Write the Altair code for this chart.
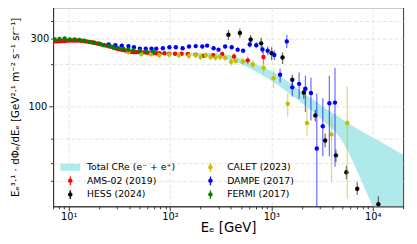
import altair as alt
import pandas as pd

# ---------------- data ----------------
band_E = [7, 10, 14, 20, 30, 50, 70, 100, 200, 300, 400, 547, 750, 1069, 1670, 2090, 2610, 3500, 4090, 5120, 5720, 7640, 10000, 20000]
band_lo = [285, 287, 281, 268, 250, 236, 232, 230, 227, 223, 212, 194, 172, 148, 117, 104, 92, 76, 69, 56, 48.6, 31, 20, 6.3]
band_hi = [298, 299, 293, 280, 262, 248, 244, 242, 240, 237, 229, 214, 196, 174, 140, 124, 112, 96, 90, 81, 77, 68, 61, 46]

ams_E = [7.26, 7.7, 8.12, 8.6, 9.08, 9.6, 10.2, 10.8, 11.4, 12.0, 12.7, 13.4, 14.2, 15.0, 15.9, 16.8, 17.8, 18.8, 19.9, 21.0,
         22.2, 23.5, 24.8, 26.3, 27.8, 29.4, 31.0, 32.8, 34.7, 36.7, 38.8, 41.0, 43.4, 46.7, 50.3, 54.2, 58.5, 63.0, 68.0, 73.0,
         78.8, 88.0, 98.0, 112, 130, 150, 179, 214, 267, 327, 428, 585, 835]
ams_F = [288, 288, 289, 290, 290, 291, 292, 292, 292, 292, 292, 291, 289, 288, 286, 284, 282, 279, 277, 274,
         271, 269, 267, 264, 260, 257, 254, 252, 250, 248, 245, 243, 242, 242, 242, 241, 240, 239, 238, 238,
         238, 238, 236, 236, 236, 235, 232, 228, 230, 235, 226, 212, 224]
ams_err = [0.8, 0.8, 0.8, 0.8, 0.8, 0.8, 0.8, 0.8, 0.8, 0.8, 0.8, 0.8, 0.8, 0.8, 0.8, 0.8, 0.8, 0.8, 0.8, 0.8,
           0.8, 0.8, 0.8, 0.8, 0.8, 0.8, 0.8, 0.8, 0.8, 0.8, 0.8, 0.8, 0.8, 0.8, 0.8, 0.8, 0.8, 0.8, 0.8, 0.8,
           1, 1, 1.5, 1.5, 2, 2, 2.5, 3, 3, 4, 5, 6, 11]

hess_E = [377, 489, 625, 794, 1007, 1290, 1610, 2090, 2720, 3400, 4340, 5510, 7050, 11400]
hess_F = [321, 330, 297, 279, 238, 222, 155, 126, 87, 58, 45.6, 34.7, 26.6, 20.7]
hess_lo = [295, 305, 276, 256, 212, 200, 140, 114, 79, 52, 41, 31, 24, 18.5]
hess_hi = [348, 355, 320, 305, 262, 242, 168, 137, 95, 65, 50, 38.5, 29.5, 23.5]

calet_E = [38.8, 52, 65, 78, 98, 122, 153, 179, 200, 225, 251, 281, 313, 350, 400, 445, 523, 657, 840, 1050, 1450, 2250, 3930, 5620]
calet_F = [243, 235, 235, 230, 233, 230, 228, 230, 224, 230, 224, 222, 224, 220, 207, 210, 208, 199, 188, 159, 105, 77, 64, 77]
calet_lo = [231, 223, 223, 218, 221, 218, 216, 218, 212, 218, 212, 210, 212, 208, 194, 197, 194, 185, 172, 136, 85, 62, 30, 22.5]
calet_hi = [255, 247, 247, 242, 245, 242, 240, 242, 236, 242, 236, 234, 236, 232, 220, 223, 222, 213, 204, 180, 124, 100, 85, 139]

dampe_E = [24.8, 28.8, 33.4, 38.8, 44.0, 50.3, 57.5, 65.5, 73.1, 84.9, 98.5, 114, 133, 154, 179, 208, 232, 269, 301,
           350, 406, 465, 527, 612, 710, 817, 920, 1070, 1220, 1420, 1610, 1880, 2170, 2460, 2810, 3220, 3740, 4250]
dampe_F = [274, 271, 269, 267, 262, 256, 256, 256, 256, 258, 262, 262, 258, 265, 267, 265, 269, 258, 252,
           265, 262, 252, 248, 274, 271, 253, 248, 231, 168, 288, 137, 145, 134, 125, 51, 73, 106, 107]
dampe_lo = [269, 266, 264, 262, 257, 251, 251, 251, 251, 253, 257, 257, 253, 260, 262, 260, 263, 252, 246,
            258, 255, 244, 239, 262, 258, 238, 230, 213, 148, 259, 118, 114, 92, 80, 12, 45, 45, 38]
dampe_hi = [279, 276, 274, 272, 267, 261, 261, 261, 261, 263, 267, 267, 263, 270, 272, 270, 275, 264, 258,
            272, 269, 260, 257, 286, 284, 268, 266, 249, 186, 321, 158, 174, 165, 160, 124, 115, 165, 187]

fermi_E = [7.0, 7.27, 8.1, 9.1, 10.2, 11.4, 12.7, 14.2, 15.9, 17.8, 19.9, 22.2, 24.8, 27.8, 31.0, 34.7, 38.8, 43.4, 50.3, 58.5, 68.0]
fermi_F = [300, 297, 300, 302, 297, 297, 295, 291, 286, 282, 277, 271, 266, 262, 258, 255, 252, 250, 247, 246, 245]
fermi_err = [3, 3, 3, 3, 3, 3, 3, 3, 3, 3, 3, 3, 3, 3, 3, 3.5, 3.5, 3.5, 3.5, 3.5, 3.5]

series_names = ["Total CRe (e⁻ + e⁺)", "AMS-02 (2019)", "HESS (2024)", "CALET (2023)", "DAMPE (2017)", "FERMI (2017)"]
series_colors = ["#afe9e9", "#ff0000", "#000000", "#bfbf00", "#0000ff", "#008000"]

x_ticks = [7, 8, 9, 10, 20, 30, 40, 50, 60, 70, 80, 90, 100, 200, 300, 400, 500, 600, 700, 800, 900,
           1000, 2000, 3000, 4000, 5000, 6000, 7000, 8000, 9000, 10000, 20000]
y_ticks = [30, 40, 60, 100, 200, 300, 400]

# ---------------- scales / axes ----------------
FONT = "DejaVu Sans"
MAJOR_X = "indexof([10,100,1000,10000], datum.value) >= 0"
xscale = alt.Scale(type="log", domain=[7, 20000], nice=False)
yscale = alt.Scale(type="log", domain=[20, 500], nice=False)

xaxis = alt.Axis(
    values=x_ticks,
    labelExpr="datum.value == 10 ? '10¹' : datum.value == 100 ? '10²' : datum.value == 1000 ? '10³' : datum.value == 10000 ? '10⁴' : ''",
    tickSize={"condition": {"test": MAJOR_X, "value": 4.5}, "value": 2.5},
    gridOpacity={"condition": {"test": MAJOR_X, "value": 1}, "value": 0},
    title="Eₑ [GeV]", titleFontSize=13.5, titlePadding=-1,
    labelFontSize=10, labelPadding=1, labelOverlap=False, labelFlush=False,
)
yaxis = alt.Axis(
    values=y_ticks,
    labelExpr="datum.value == 100 ? '100' : datum.value == 300 ? '300' : ''",
    tickSize={"condition": {"test": "datum.value == 100", "value": 4.5}, "value": 2.5},
    title="Eₑ³·¹ · dΦₑ/dEₑ [GeV²·¹ m⁻² s⁻¹ sr⁻¹]", titleFontSize=10.5, titlePadding=8,
    labelFontSize=10, labelPadding=2, labelOverlap=False, labelFlush=False,
)


def X(field="E"):
    return alt.X(f"{field}:Q", scale=xscale, axis=xaxis)


def Y(field):
    return alt.Y(f"{field}:Q", scale=yscale, axis=yaxis)


band_df = pd.DataFrame({"E": band_E, "lo": band_lo, "hi": band_hi})
band = alt.Chart(band_df).mark_area(color=series_colors[0], opacity=1, interpolate="monotone", clip=True).encode(
    x=X(), y=Y("lo"), y2="hi:Q"
)

# legend carrier layer: zero-size points, the legend draws its own symbols
err_path = "M-0.09,-0.64L0.09,-0.64L0.09,0.64L-0.09,0.64Z M0.33,0A0.33,0.33,0,1,1,-0.33,0A0.33,0.33,0,1,1,0.33,0Z"
rect_path = "M-1.43,-0.5L1.43,-0.5L1.43,0.5L-1.43,0.5Z"
legend_shapes = [rect_path, err_path, err_path, err_path, err_path, err_path]
leg_df = pd.DataFrame({
    "series": series_names,
    "E": [band_E[0], ams_E[0], hess_E[0], calet_E[0], dampe_E[0], fermi_E[0]],
    "F": [band_hi[0], ams_F[0], hess_F[0], calet_F[0], dampe_F[0], fermi_F[0]],
})
legend_layer = alt.Chart(leg_df).mark_point(filled=True, opacity=1).encode(
    x=X(), y=Y("F"),
    size=alt.value(0),
    color=alt.Color("series:N", scale=alt.Scale(domain=series_names, range=series_colors),
                    legend=alt.Legend(title=None, orient="none", legendX=10.5, legendY=156, columns=2,
                                      direction="vertical", symbolSize=196, symbolStrokeWidth=0,
                                      symbolOpacity=1, labelFontSize=9.5, labelOffset=10,
                                      columnPadding=28, rowPadding=2, padding=0, labelFont=FONT)),
    shape=alt.Shape("series:N", scale=alt.Scale(domain=series_names, range=legend_shapes)),
)


def series_layers(E, F, lo, hi, color):
    df = pd.DataFrame({"E": E, "F": F, "lo": lo, "hi": hi})
    bars = alt.Chart(df).mark_rule(color=color, strokeWidth=1.3, opacity=0.55, clip=True).encode(
        x=X(), y=Y("lo"), y2="hi:Q")
    pts = alt.Chart(df).mark_circle(color=color, size=20, opacity=1, clip=True).encode(x=X(), y=Y("F"))
    return [bars, pts]


layers = [band, legend_layer]
layers += series_layers(ams_E, ams_F, [f * (1 - e / 100) for f, e in zip(ams_F, ams_err)],
                        [f * (1 + e / 100) for f, e in zip(ams_F, ams_err)], series_colors[1])
layers += series_layers(hess_E, hess_F, hess_lo, hess_hi, series_colors[2])
layers += series_layers(calet_E, calet_F, calet_lo, calet_hi, series_colors[3])
layers += series_layers(dampe_E, dampe_F, dampe_lo, dampe_hi, series_colors[4])
layers += series_layers(fermi_E, fermi_F, [f * (1 - e / 100) for f, e in zip(fermi_F, fermi_err)],
                        [f * (1 + e / 100) for f, e in zip(fermi_F, fermi_err)], series_colors[5])

chart = alt.layer(*layers).properties(
    width=357, height=203,
    autosize=alt.AutoSizeParams(type="none"),
    padding={"left": 46, "top": -3, "right": 6, "bottom": 28},
).configure(font=FONT).configure_view(
    stroke="#333333", strokeWidth=1
).configure_axis(
    domainColor="#333333", tickColor="#333333", labelColor="#000000", titleColor="#000000",
    gridColor="#dedede", gridDash=[4, 2], gridWidth=0.8,
    labelFont=FONT, titleFont=FONT, titleFontWeight="normal",
)

chart.save("out.html", embed_options={"renderer": "svg", "actions": False})
